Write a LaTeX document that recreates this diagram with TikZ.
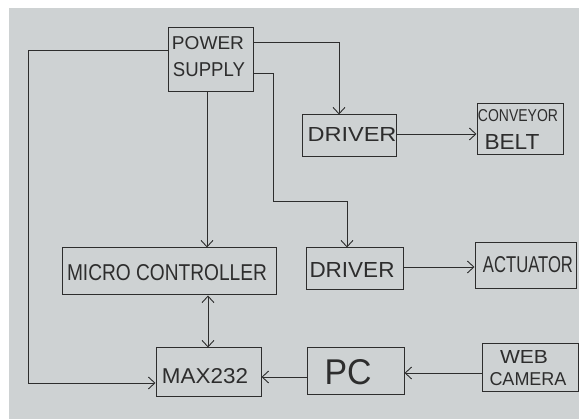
\documentclass[tikz,border=0pt]{standalone}
\usepackage{fontspec}
\setmainfont{Liberation Sans}
\usepackage{graphicx}
\usetikzlibrary{arrows.meta}
\definecolor{paper}{RGB}{206,210,211}
\definecolor{ink}{RGB}{45,45,45}
\newcommand{\hw}[3]{\resizebox{#1pt}{#2pt}{#3}}
\tikzset{
  blk/.style={draw=ink, line width=1pt, rectangle, inner sep=0pt},
  lbl/.style={text=ink, inner sep=0pt},
  wire/.style={draw=ink, line width=0.9pt},
  arr/.style={wire, -{Straight Barb[length=6.5pt,width=12pt]}},
  darr/.style={wire, {Straight Barb[length=6.5pt,width=12pt]}-{Straight Barb[length=6.5pt,width=12pt]}}
}
\begin{document}
\begin{tikzpicture}[x=1pt,y=-1pt]
\fill[white] (0,0) rectangle (579,419);
\fill[paper] (9,8) rectangle (579,419);
\useasboundingbox (0,0) rectangle (579,419);

% boxes
\node[blk, minimum width=85pt, minimum height=64pt] (ps) at (210.5,60) {};
\node[lbl] (pst1) at (208,43.5) {\hw{72}{13}{POWER}};
\node[lbl] (pst2) at (209,70) {\hw{72}{14}{SUPPLY}};

\node[blk, minimum width=94pt, minimum height=42pt] (drv1) at (349,136) {};
\node[lbl] (drv1t) at (352,135) {\hw{89}{14}{DRIVER}};

\node[blk, minimum width=86pt, minimum height=51pt] (conv) at (520,129.5) {};
\node[lbl] (convt1) at (518,116) {\hw{80}{12}{CONVEYOR}};
\node[lbl] (convt2) at (512,142) {\hw{55}{15}{BELT}};

\node[blk, minimum width=214pt, minimum height=47pt] (mc) at (169,271.5) {};
\node[lbl] (mct) at (167,273) {\hw{200}{16}{MICRO CONTROLLER}};

\node[blk, minimum width=97pt, minimum height=42pt] (drv2) at (354.5,269) {};
\node[lbl] (drv2t) at (352,270) {\hw{85}{15}{DRIVER}};

\node[blk, minimum width=101pt, minimum height=46pt] (act) at (525.5,266) {};
\node[lbl] (actt) at (528,265) {\hw{90}{16}{ACTUATOR}};

\node[blk, minimum width=105pt, minimum height=49pt] (max) at (208.5,372.5) {};
\node[lbl] (maxt) at (205,376) {\hw{86}{15}{MAX232}};

\node[blk, minimum width=97pt, minimum height=47pt] (pc) at (355.5,371.5) {};
\node[lbl] (pct) at (348,372) {\hw{47}{25}{PC}};

\node[blk, minimum width=96pt, minimum height=48pt] (cam) at (530,368) {};
\node[lbl] (camt1) at (524,357) {\hw{48}{13}{WEB}};
\node[lbl] (camt2) at (528,379) {\hw{77}{13}{CAMERA}};

% corner points
\coordinate (c1) at (28,50);
\coordinate (c2) at (28,383);
\coordinate (c3) at (339,42);
\coordinate (c4) at (273,73);
\coordinate (c5) at (273,201);
\coordinate (c6) at (347,201);
\coordinate (c7) at (207,0);
\coordinate (c8) at (208,0);

% connectors
\draw[arr] (ps.west |- c1) -- (c1) -- (c2) -- (c2 -| max.west);
\draw[arr] (ps.east |- c3) -- (c3) -- (c3 |- drv1.north);
\draw[arr] (ps.east |- c4) -- (c4) -- (c5) -- (c6) -- (c6 |- drv2.north);
\draw[arr] (ps.south -| c7) -- (mc.north -| c7);
\draw[darr] (mc.south -| c8) -- (max.north -| c8);
\draw[arr] (drv1.east |- 0,134) -- (conv.west |- 0,134);
\draw[arr] (drv2.east |- 0,267) -- (act.west |- 0,267);
\draw[arr] (pc.west |- 0,377) -- (max.east |- 0,377);
\draw[arr] (cam.west |- 0,373) -- (pc.east |- 0,373);
\end{tikzpicture}
\end{document}
